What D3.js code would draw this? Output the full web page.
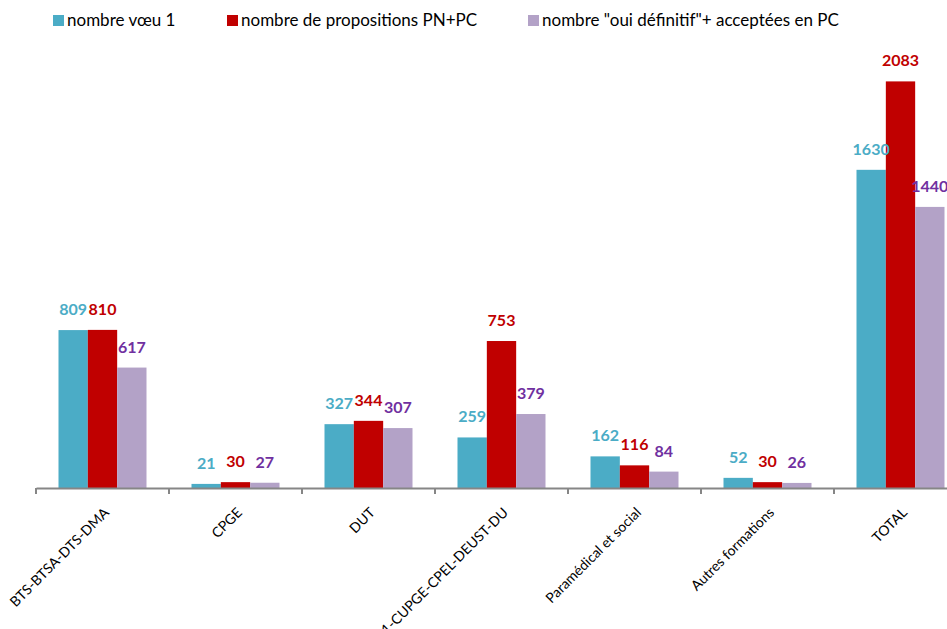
<!DOCTYPE html>
<html lang="fr">
<head>
<meta charset="UTF-8">
<title>chart</title>
<script src="https://cdn.jsdelivr.net/npm/d3@7"></script>
<style>
	body { margin: 0; background: #fff; }
	svg { display: block; font-family: Lato, "Open Sans", sans-serif; }
</style>
</head>
<body>
<script>
// données
const categories = ["BTS-BTSA-DTS-DMA", "CPGE", "DUT", "L1-CUPGE-CPEL-DEUST-DU", "Paramédical et social", "Autres formations", "TOTAL"]
const seriesNames = ["nombre vœu 1", "nombre de propositions PN+PC", "nombre \"oui définitif\"+ acceptées en PC"]
const voeu1 = [809, 21, 327, 259, 162, 52, 1630]
const propositions = [810, 30, 344, 753, 116, 30, 2083]
const ouiDefinitif = [617, 27, 307, 379, 84, 26, 1440]

const values = [voeu1, propositions, ouiDefinitif]
const barColors = ["#4BACC6", "#C00000", "#B3A2C7"]
const labelColors = ["#4BACC6", "#C00000", "#7030A0"]

const width = 947, height = 629
const baseY = 488

const svg = d3.select('body').append('svg')
	.attr('width', width)
	.attr('height', height)

const x = d3.scaleBand()
	.domain(categories)
	.range([36, 967])
	.padding(0)

const xSub = d3.scaleBand()
	.domain(d3.range(seriesNames.length))
	.range([22.5, x.bandwidth() - 22.5])

const y = d3.scaleLinear()
	.domain([0, 2500])
	.range([baseY, 0])

// barres
const groups = svg.selectAll('g.cat')
	.data(categories)
	.enter().append('g')
	.attr('class', 'cat')
	.attr('transform', d => `translate(${x(d)},0)`)

groups.selectAll('rect')
	.data((d, i) => values.map((s, k) => ({ k, v: s[i] })))
	.enter().append('rect')
	.attr('x', d => xSub(d.k))
	.attr('y', d => y(d.v))
	.attr('width', xSub.bandwidth())
	.attr('height', d => baseY - y(d.v))
	.attr('fill', d => barColors[d.k])

groups.selectAll('text.val')
	.data((d, i) => values.map((s, k) => ({ k, v: s[i] })))
	.enter().append('text')
	.attr('class', 'val')
	.attr('x', d => xSub(d.k) + xSub.bandwidth() / 2)
	.attr('y', d => y(d.v) - 15)
	.attr('text-anchor', 'middle')
	.attr('font-size', 16)
	.attr('font-weight', 'bold')
	.attr('fill', d => labelColors[d.k])
	.text(d => d.v)

// axe
const axis = svg.append('g')
	.attr('transform', `translate(0,${baseY})`)
	.call(d3.axisBottom(x).tickSize(0).tickFormat(''))
axis.select('.domain').attr('stroke', '#868686').attr('stroke-width', 2)

axis.selectAll('line.sep')
	.data(categories)
	.enter().append('line')
	.attr('class', 'sep')
	.attr('x1', d => x(d)).attr('x2', d => x(d))
	.attr('y1', 0).attr('y2', 6)
	.attr('stroke', '#868686')
	.attr('stroke-width', 2)

svg.append('g').selectAll('text')
	.data(categories)
	.enter().append('text')
	.attr('transform', d => `translate(${x(d) + x.bandwidth() / 2 + 4},${baseY + 22}) rotate(-45)`)
	.attr('text-anchor', 'end')
	.attr('dy', '0.35em')
	.attr('font-size', 14)
	.attr('fill', '#000')
	.text(d => d)

// légende
const legendX = [53, 227, 528]
const legend = svg.append('g')
	.selectAll('g')
	.data(seriesNames)
	.enter().append('g')
	.attr('transform', (d, i) => `translate(${legendX[i]},15)`)
legend.append('rect')
	.attr('width', 11).attr('height', 11)
	.attr('fill', (d, i) => barColors[i])
legend.append('text')
	.attr('x', 14)
	.attr('y', 11)
	.attr('font-size', 17)
	.attr('fill', '#000')
	.text(d => d)
</script>
</body>
</html>
